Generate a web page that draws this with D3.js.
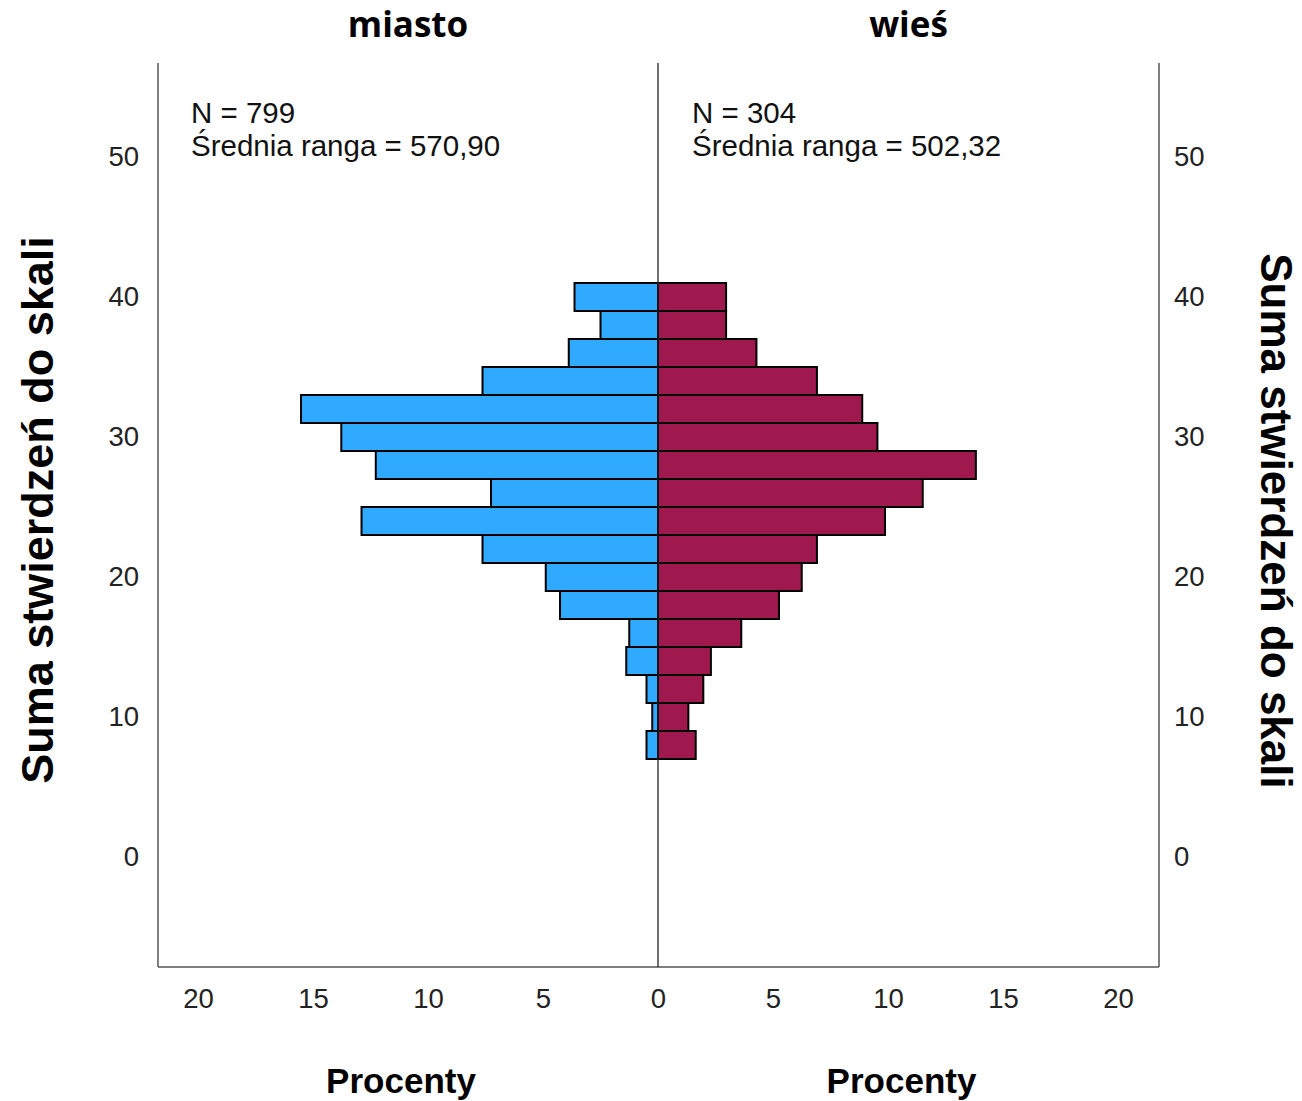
<!DOCTYPE html>
<html>
<head>
<meta charset="utf-8">
<script src="https://cdn.jsdelivr.net/npm/d3@7"></script>
<style>
html,body{margin:0;padding:0;background:#fff;}
svg{display:block;}
</style>
</head>
<body>
<svg id="chart" width="1302" height="1101"></svg>
<script>
// Bin centres (Suma stwierdzeń do skali), bin width 2
const binCenters = [40, 38, 36, 34, 32, 30, 28, 26, 24, 22, 20, 18, 16, 14, 12, 10, 8];
// Percent of group in each bin
const miastoValues = [3.63, 2.50, 3.88, 7.63, 15.52, 13.77, 12.27, 7.26, 12.89, 7.63, 4.88, 4.26, 1.25, 1.38, 0.50, 0.25, 0.50];
const wiesValues   = [2.96, 2.96, 4.28, 6.91, 8.88, 9.54, 13.82, 11.51, 9.87, 6.91, 6.25, 5.26, 3.62, 2.30, 1.97, 1.32, 1.64];
const groupNames = ["miasto", "wieś"];
const groupStats = [["N = 799", "Średnia ranga = 570,90"], ["N = 304", "Średnia ranga = 502,32"]];
const yTicks = [0, 10, 20, 30, 40, 50];
const xTicks = [0, 5, 10, 15, 20];
const binWidth = 2;
const yTitle = "Suma stwierdzeń do skali";
const xTitle = "Procenty";

(function () {
const svg = d3.select("#chart");
const plotTop = 63, plotBottom = 967, leftEdge = 158, mid = 658, rightEdge = 1159;
const pxPerUnitX = 23, pxPerUnitY = 14, zeroY = 857;

const y = d3.scaleLinear()
  .domain([-(plotBottom - zeroY) / pxPerUnitY, (zeroY - plotTop) / pxPerUnitY])
  .range([plotBottom, plotTop]);
const xL = d3.scaleLinear().domain([0, (mid - leftEdge) / pxPerUnitX]).range([mid, leftEdge]);
const xR = d3.scaleLinear().domain([0, (rightEdge - mid) / pxPerUnitX]).range([mid, rightEdge]);

const colors = ["#30aaff", "#a0194e"];
const axisColor = "#555";
const tickColor = "#222";
const font = "'Liberation Sans', Arial, sans-serif";

// Bars - left (miasto)
svg.append("g").selectAll("rect")
  .data(binCenters.map((c, i) => ({c, v: miastoValues[i]})))
  .join("rect")
  .attr("x", d => xL(d.v))
  .attr("y", d => y(d.c + binWidth / 2))
  .attr("width", d => xL(0) - xL(d.v))
  .attr("height", d => y(d.c - binWidth / 2) - y(d.c + binWidth / 2))
  .attr("fill", colors[0])
  .attr("stroke", "#000")
  .attr("stroke-width", 2);

// Bars - right (wieś)
svg.append("g").selectAll("rect")
  .data(binCenters.map((c, i) => ({c, v: wiesValues[i]})))
  .join("rect")
  .attr("x", d => xR(0))
  .attr("y", d => y(d.c + binWidth / 2))
  .attr("width", d => xR(d.v) - xR(0))
  .attr("height", d => y(d.c - binWidth / 2) - y(d.c + binWidth / 2))
  .attr("fill", colors[1])
  .attr("stroke", "#000")
  .attr("stroke-width", 2);

// Frame lines
const lines = svg.append("g").attr("stroke", axisColor).attr("stroke-width", 1.5).attr("fill", "none");
lines.append("line").attr("x1", leftEdge).attr("x2", leftEdge).attr("y1", plotTop).attr("y2", plotBottom);
lines.append("line").attr("x1", rightEdge).attr("x2", rightEdge).attr("y1", plotTop).attr("y2", plotBottom);
lines.append("line").attr("x1", leftEdge).attr("x2", rightEdge).attr("y1", plotBottom).attr("y2", plotBottom);
lines.append("line").attr("x1", mid).attr("x2", mid).attr("y1", plotTop).attr("y2", plotBottom).attr("stroke", "#222").attr("stroke-width", 1.3);

// Y axes (labels only)
const gyl = svg.append("g").attr("transform", `translate(${leftEdge},0)`)
  .call(d3.axisLeft(y).tickValues(yTicks).tickSize(0).tickPadding(19));
const gyr = svg.append("g").attr("transform", `translate(${rightEdge},0)`)
  .call(d3.axisRight(y).tickValues(yTicks).tickSize(0).tickPadding(15));
// X axes (labels only)
const gxl = svg.append("g").attr("transform", `translate(0,${plotBottom})`)
  .call(d3.axisBottom(xL).tickValues(xTicks).tickSize(0).tickPadding(21));
const gxr = svg.append("g").attr("transform", `translate(0,${plotBottom})`)
  .call(d3.axisBottom(xR).tickValues(xTicks.filter(t => t > 0)).tickSize(0).tickPadding(21));
[gyl, gyr, gxl, gxr].forEach(g => {
  g.select(".domain").remove();
  g.selectAll("text").attr("font-family", font).attr("font-size", 27.5).attr("fill", tickColor);
});

// Panel titles
const panelCenters = [(leftEdge + mid) / 2, (mid + rightEdge) / 2];
svg.append("g").selectAll("text").data(groupNames).join("text")
  .attr("x", (d, i) => panelCenters[i])
  .attr("y", 37)
  .attr("text-anchor", "middle")
  .attr("font-family", "'Open Sans', sans-serif")
  .attr("font-weight", "bold")
  .attr("font-size", 35)
  .attr("fill", "#000")
  .text(d => d);

// Stats annotations
const statX = [leftEdge + 33, mid + 34];
groupStats.forEach((ls, i) => {
  ls.forEach((t, j) => {
    svg.append("text")
      .attr("x", statX[i])
      .attr("y", 123 + j * 33)
      .attr("font-family", font)
      .attr("font-size", 29.5)
      .attr("fill", "#111")
      .text(t);
  });
});

// X axis titles
svg.append("g").selectAll("text").data(panelCenters).join("text")
  .attr("x", d => d - 7)
  .attr("y", 1093)
  .attr("text-anchor", "middle")
  .attr("font-family", font)
  .attr("font-weight", "bold")
  .attr("font-size", 35)
  .attr("fill", "#000")
  .text(xTitle);

// Y axis titles
svg.append("text")
  .attr("transform", `translate(53,510) rotate(-90)`)
  .attr("text-anchor", "middle")
  .attr("font-family", font)
  .attr("font-weight", "bold")
  .attr("font-size", 45)
  .attr("fill", "#000")
  .text(yTitle);
svg.append("text")
  .attr("transform", `translate(1261,521) rotate(90)`)
  .attr("text-anchor", "middle")
  .attr("font-family", font)
  .attr("font-weight", "bold")
  .attr("font-size", 44)
  .attr("fill", "#000")
  .text(yTitle);
})();
</script>
</body>
</html>
